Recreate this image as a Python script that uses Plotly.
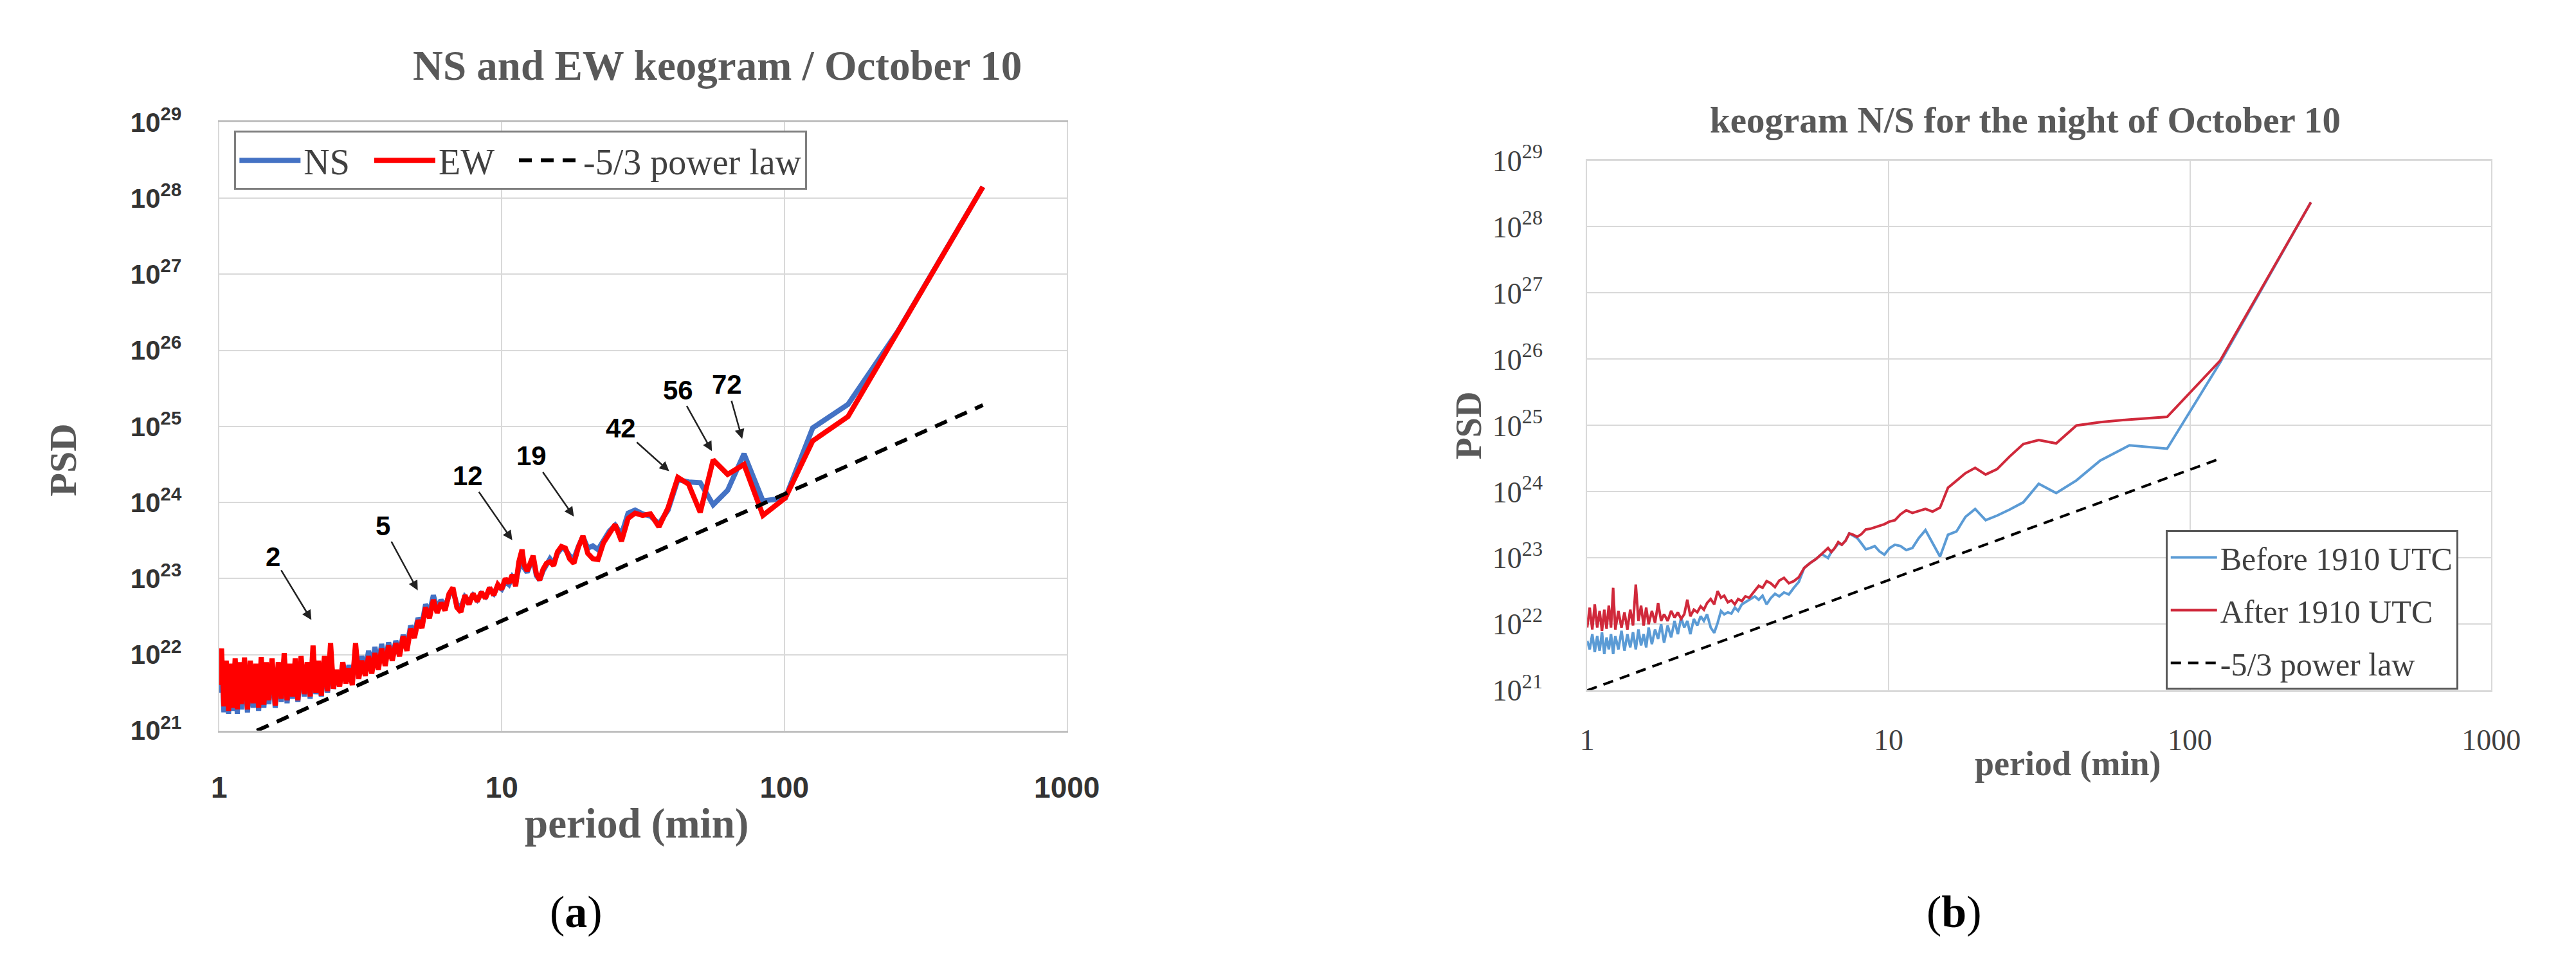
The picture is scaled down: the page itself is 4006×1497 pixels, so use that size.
import plotly.graph_objects as go

# ---------------- Panel (a): NS and EW keogram ----------------
period_a = [
    1.00, 1.02, 1.04, 1.06, 1.08, 1.10, 1.12, 1.14, 1.16, 1.18,
    1.20, 1.23, 1.26, 1.29, 1.32, 1.35, 1.38, 1.41, 1.44, 1.47,
    1.50, 1.54, 1.58, 1.62, 1.66, 1.70, 1.74, 1.78, 1.82, 1.86,
    1.90, 1.95, 2.00, 2.05, 2.10, 2.15, 2.20, 2.25, 2.30, 2.36,
    2.42, 2.48, 2.54, 2.60, 2.67, 2.74, 2.81, 2.88, 2.96, 3.04,
    3.12, 3.20, 3.29, 3.38, 3.47, 3.56, 3.66, 3.76, 3.87, 3.98,
    4.10, 4.22, 4.35, 4.48, 4.62, 4.76, 4.91, 5.06, 5.22, 5.38,
    5.55, 5.73, 5.91, 6.10, 6.30, 6.51, 6.72, 6.94, 7.17, 7.41,
    7.66, 7.92, 8.19, 8.47, 8.76, 9.06, 9.37, 9.69, 10.0, 10.3,
    10.6, 10.9, 11.2, 11.5, 11.8, 12.0, 12.3, 12.6,
    12.92, 13.26, 13.62, 14.0, 14.4, 14.82, 15.27, 15.75, 16.26, 16.8,
    17.38, 18.0, 18.67, 19.38, 20.16, 21.0, 21.91, 22.91, 24.0, 25.2,
    26.53, 28.0, 29.65, 31.5, 33.6, 36.0, 38.77, 42.0, 45.82, 50.4,
    56.0, 63.0, 72.0, 84.0, 100.8, 126.0, 168.0, 252.0, 504.0,
]

# log10(PSD)
ns_log_a = [
    21.50, 21.95, 21.24, 21.85, 21.22, 21.80, 21.26, 21.88, 21.22, 21.84,
    21.28, 21.90, 21.24, 21.86, 21.30, 21.82, 21.26, 21.90, 21.30, 21.85,
    21.35, 21.88, 21.30, 21.84, 21.38, 21.95, 21.36, 21.82, 21.42, 21.90,
    21.38, 21.92, 21.45, 21.86, 21.42, 22.02, 21.48, 21.88, 21.45, 21.92,
    21.50, 22.05, 21.55, 21.78, 21.62, 21.88, 21.66, 21.86, 21.64, 22.05,
    21.72, 21.98, 21.78, 22.05, 21.82, 22.10, 21.86, 22.14, 21.90, 22.16,
    21.95, 22.18, 22.02, 22.26, 22.10, 22.38, 22.28, 22.48, 22.40, 22.66,
    22.55, 22.78, 22.60, 22.72, 22.62, 22.78, 22.84, 22.66, 22.62, 22.76,
    22.70, 22.78, 22.72, 22.80, 22.76, 22.85, 22.80, 22.90, 22.86, 22.96,
    22.92, 23.02, 22.96, 23.15, 23.30, 23.14, 23.08, 23.18,
    23.26, 23.04, 22.98, 23.10, 23.18, 23.26, 23.20, 23.33, 23.40, 23.38,
    23.30, 23.26, 23.42, 23.55, 23.40, 23.43, 23.38, 23.50, 23.62, 23.70,
    23.58, 23.86, 23.90, 23.85, 23.82, 23.72, 23.90, 24.30, 24.27, 24.26,
    23.97, 24.16, 24.64, 24.02, 24.06, 24.98, 25.29, 26.25, 28.15,
]

ew_log_a = [
    21.60, 22.08, 21.32, 21.92, 21.26, 21.88, 21.30, 21.95, 21.28, 21.90,
    21.35, 21.96, 21.28, 21.92, 21.36, 21.88, 21.30, 21.97, 21.34, 21.90,
    21.40, 21.95, 21.33, 21.90, 21.42, 22.02, 21.40, 21.88, 21.45, 21.95,
    21.40, 21.98, 21.48, 21.90, 21.45, 22.12, 21.50, 21.92, 21.46, 21.98,
    21.52, 22.15, 21.55, 21.80, 21.58, 21.90, 21.62, 21.82, 21.60, 22.15,
    21.68, 21.92, 21.72, 21.98, 21.75, 22.02, 21.80, 22.08, 21.85, 22.12,
    21.92, 22.15, 21.98, 22.24, 22.05, 22.34, 22.22, 22.45, 22.35, 22.62,
    22.48, 22.72, 22.55, 22.68, 22.58, 22.80, 22.88, 22.62, 22.56, 22.78,
    22.66, 22.80, 22.70, 22.82, 22.74, 22.88, 22.78, 22.92, 22.86, 23.00,
    22.94, 23.05, 22.90, 23.22, 23.38, 23.18, 23.10, 23.22,
    23.30, 23.06, 22.98, 23.12, 23.20, 23.22, 23.17, 23.35, 23.42, 23.40,
    23.26, 23.20, 23.41, 23.56, 23.33, 23.26, 23.25, 23.47, 23.59, 23.71,
    23.49, 23.79, 23.86, 23.83, 23.85, 23.68, 23.93, 24.33, 24.24, 23.87,
    24.56, 24.37, 24.50, 23.83, 24.06, 24.81, 25.13, 26.25, 28.15,
]

law_period_a = [1.36, 504.0]
law_log_a = [21.0, 25.28]

# ---------------- Panel (b): keogram N/S, night of October 10 ----------------
period_b = [
    1.00, 1.02, 1.04, 1.06, 1.08, 1.10, 1.12, 1.14, 1.16, 1.18,
    1.20, 1.22, 1.24, 1.27, 1.30, 1.33, 1.36, 1.39, 1.42, 1.45,
    1.48, 1.51, 1.54, 1.57, 1.60, 1.64, 1.68, 1.72, 1.76, 1.80,
    1.85, 1.90, 1.95, 2.00, 2.05, 2.10, 2.15, 2.20, 2.26, 2.32,
    2.38, 2.44, 2.50, 2.57, 2.64, 2.71, 2.78, 2.85, 2.93, 3.01,
    3.09, 3.17, 3.26, 3.35, 3.45,
    3.60, 3.71, 3.82, 3.94, 4.06, 4.20, 4.34, 4.50, 4.67, 4.85,
    5.04, 5.25, 5.48, 5.73, 6.00, 6.30,
    6.46, 6.63, 6.81, 7.00, 7.20, 7.41, 7.64, 7.875, 8.13, 8.40,
    8.69, 9.00, 9.33, 9.69, 10.08, 10.5, 10.96, 11.45, 12.0, 12.6,
    13.26, 14.0, 14.82, 15.75, 16.8, 18.0, 19.38, 21.0, 22.91, 25.2,
    28.0, 31.5, 36.0, 42.0, 50.4, 63.0, 84.0, 126.0, 252.0,
]

before_log_b = [
    21.75, 21.62, 21.85, 21.58, 21.82, 21.60, 21.88, 21.55, 21.80, 21.62,
    21.85, 21.55, 21.82, 21.62, 21.90, 21.60, 21.85, 21.65, 21.88, 21.62,
    21.92, 21.68, 21.85, 21.65, 21.95, 21.70, 21.92, 21.78, 22.00, 21.72,
    21.98, 21.80, 22.05, 21.85, 22.10, 21.95, 22.05, 21.85, 22.08, 21.98,
    22.12, 22.05, 22.15, 21.95, 21.87, 22.02, 22.20, 22.15, 22.18, 22.16,
    22.25, 22.20, 22.30, 22.33, 22.37,
    22.42, 22.37, 22.43, 22.30, 22.39, 22.46, 22.42, 22.48, 22.45, 22.55,
    22.64, 22.85, 22.92, 22.98, 23.06, 23.00,
    23.09, 23.15, 23.22, 23.20, 23.26, 23.37, 23.33, 23.30, 23.22, 23.13,
    23.15, 23.18, 23.10, 23.05, 23.15, 23.20, 23.18, 23.12, 23.15, 23.30,
    23.42, 23.22, 23.02, 23.35, 23.40, 23.62, 23.74, 23.57, 23.64, 23.73,
    23.84, 24.12, 23.98, 24.17, 24.47, 24.70, 24.65, 25.95, 28.37,
]

after_log_b = [
    21.95, 22.25, 21.92, 22.30, 21.95, 22.20, 21.90, 22.22, 21.93, 22.28,
    21.95, 22.55, 21.92, 22.20, 21.95, 22.18, 21.92, 22.22, 21.98, 22.60,
    22.05, 22.28, 21.98, 22.25, 22.00, 22.20, 22.02, 22.32, 22.05, 22.15,
    22.05, 22.20, 22.10, 22.18, 22.08, 22.15, 22.37, 22.12, 22.22, 22.18,
    22.27, 22.22, 22.32, 22.38, 22.30, 22.50, 22.40, 22.43, 22.33, 22.36,
    22.30, 22.38, 22.35, 22.42, 22.40,
    22.50, 22.58, 22.55, 22.65, 22.62, 22.56, 22.66, 22.70, 22.62, 22.65,
    22.71, 22.85, 22.92, 22.98, 23.06, 23.15,
    23.09, 23.15, 23.24, 23.20, 23.26, 23.37, 23.35, 23.32, 23.36, 23.43,
    23.44, 23.46, 23.49, 23.51, 23.55, 23.57, 23.66, 23.72, 23.68, 23.71,
    23.74, 23.70, 23.76, 24.06, 24.17, 24.28, 24.36, 24.26, 24.34, 24.53,
    24.72, 24.78, 24.73, 25.00, 25.05, 25.09, 25.13, 25.98, 28.37,
]

law_period_b = [1.0, 126.0]
law_log_b = [21.0, 24.5]

# tick labels
x_tick_vals = [1, 10, 100, 1000]
x_tick_text = ["1", "10", "100", "1000"]
y_exponents = [21, 22, 23, 24, 25, 26, 27, 28, 29]

# peak labels in panel (a): label, text position (log10 period, log10 PSD), arrow head
peak_labels = ["2", "5", "12", "19", "42", "56", "72"]
peak_text_pos = [(0.190, 23.29), (0.580, 23.69), (0.880, 24.35), (1.106, 24.61),
                 (1.421, 24.98), (1.623, 25.48), (1.797, 25.55)]
peak_head_pos = [(0.329, 22.44), (0.705, 22.83), (1.040, 23.49), (1.258, 23.80),
                 (1.596, 24.40), (1.746, 24.66), (1.852, 24.82)]


def to_psd(logs):
    return [10.0 ** v for v in logs]


SANS = "Liberation Sans, Arial, sans-serif"
SERIF = "Liberation Serif, DejaVu Serif, serif"
GREY = "#595959"
NB = "\u00a0"

fig = go.Figure()

fig.add_trace(go.Scatter(x=period_a, y=to_psd(ns_log_a), mode="lines", name="NS" + NB * 2,
                         line=dict(color="#4472c4", width=8), xaxis="x", yaxis="y",
                         legend="legend"))
fig.add_trace(go.Scatter(x=period_a, y=to_psd(ew_log_a), mode="lines", name="EW" + NB * 2,
                         line=dict(color="#ff0000", width=8), xaxis="x", yaxis="y",
                         legend="legend"))
fig.add_trace(go.Scatter(x=law_period_a, y=to_psd(law_log_a), mode="lines", name="-5/3 power law",
                         line=dict(color="black", width=6, dash="20px,14px"), xaxis="x", yaxis="y",
                         legend="legend"))

fig.add_trace(go.Scatter(x=period_b, y=to_psd(before_log_b), mode="lines", name="Before 1910 UTC",
                         line=dict(color="#5b9bd5", width=4), xaxis="x2", yaxis="y2",
                         legend="legend2", legendgroup="g1"))
fig.add_trace(go.Scatter(x=period_b, y=to_psd(after_log_b), mode="lines", name="After 1910 UTC",
                         line=dict(color="#d0293b", width=4), xaxis="x2", yaxis="y2",
                         legend="legend2", legendgroup="g2"))
fig.add_trace(go.Scatter(x=law_period_b, y=to_psd(law_log_b), mode="lines", name="-5/3 power law",
                         line=dict(color="black", width=4, dash="16px,11px"), xaxis="x2", yaxis="y2",
                         legend="legend2", legendgroup="g3"))

y_tick_vals = [10.0 ** e for e in y_exponents]
y_tick_text = ["10<sup>%d</sup>" % e for e in y_exponents]

common_x = dict(type="log", range=[0, 3], tickvals=x_tick_vals, ticktext=x_tick_text,
                showgrid=True, gridcolor="#d9d9d9", gridwidth=2, zeroline=False, ticks="")
common_y = dict(type="log", range=[21, 29], tickvals=y_tick_vals, ticktext=y_tick_text,
                showgrid=True, gridcolor="#d9d9d9", gridwidth=2, zeroline=False, ticks="")

fig.update_layout(
    width=4006, height=1497, autosize=False,
    margin=dict(l=0, r=0, t=0, b=0),
    paper_bgcolor="white", plot_bgcolor="white",
    xaxis=dict(common_x, domain=[0.0811, 0.4156], anchor="y",
               showline=True, linecolor="#bfbfbf", linewidth=3, mirror=True,
               tickfont=dict(family=SANS, size=46, color="#333333", weight="bold"),
               ticklabelstandoff=46),
    yaxis=dict(common_y, domain=[0.2385, 0.8958], anchor="x",
               showline=True, linecolor="#d9d9d9", linewidth=2, mirror=True,
               tickfont=dict(family=SANS, size=42, color="#333333", weight="bold"),
               ticklabelstandoff=48),
    xaxis2=dict(common_x, domain=[0.6208, 0.9775], anchor="y2",
                showline=True, linecolor="#d9d9d9", linewidth=3, mirror=True,
                tickfont=dict(family=SERIF, size=46, color="#404040"),
                ticklabelstandoff=34),
    yaxis2=dict(common_y, domain=[0.2819, 0.8544], anchor="x2",
                showline=True, linecolor="#d9d9d9", linewidth=2, mirror=True,
                tickfont=dict(family=SERIF, size=46, color="#404040"),
                ticklabelstandoff=58),
    legend=dict(x=0.0871, y=0.8864, xanchor="left", yanchor="top", orientation="h",
                bgcolor="white", bordercolor="#7f7f7f", borderwidth=3,
                font=dict(family=SERIF, size=56, color="#404040"),
                itemwidth=95, traceorder="normal"),
    legend2=dict(x=0.849, y=0.4549, xanchor="left", yanchor="top", orientation="v",
                 bgcolor="white", bordercolor="#595959", borderwidth=3,
                 font=dict(family=SERIF, size=50, color="#404040"),
                 itemwidth=72, tracegroupgap=14, traceorder="grouped"),
    showlegend=True,
)

annotations = [
    dict(text="<b>NS and EW keogram / October 10</b>", x=0.2776, y=0.9566, xref="paper", yref="paper",
         showarrow=False, font=dict(family=SERIF, size=65, color=GREY), xanchor="center", yanchor="middle"),
    dict(text="<b>period (min)</b>", x=0.2459, y=0.1383, xref="paper", yref="paper",
         showarrow=False, font=dict(family=SERIF, size=65, color=GREY), xanchor="center", yanchor="middle"),
    dict(text="<b>PSD</b>", x=0.0195, y=0.531, xref="paper", yref="paper", textangle=-90,
         showarrow=False, font=dict(family=SERIF, size=60, color=GREY), xanchor="center", yanchor="middle"),
    dict(text="(<b>a</b>)", x=0.2219, y=0.0428, xref="paper", yref="paper",
         showarrow=False, font=dict(family=SERIF, size=70, color="black"), xanchor="center", yanchor="middle"),
    dict(text="<b>keogram N/S for the night of October 10</b>", x=0.7936, y=0.8985, xref="paper", yref="paper",
         showarrow=False, font=dict(family=SERIF, size=57, color=GREY), xanchor="center", yanchor="middle"),
    dict(text="<b>period (min)</b>", x=0.8105, y=0.2030, xref="paper", yref="paper",
         showarrow=False, font=dict(family=SERIF, size=54, color=GREY), xanchor="center", yanchor="middle"),
    dict(text="<b>PSD</b>", x=0.574, y=0.568, xref="paper", yref="paper", textangle=-90,
         showarrow=False, font=dict(family=SERIF, size=56, color=GREY), xanchor="center", yanchor="middle"),
    dict(text="(<b>b</b>)", x=0.7656, y=0.0428, xref="paper", yref="paper",
         showarrow=False, font=dict(family=SERIF, size=70, color="black"), xanchor="center", yanchor="middle"),
]

for lab, (tx, ty), (hx, hy) in zip(peak_labels, peak_text_pos, peak_head_pos):
    annotations.append(dict(
        text="<b>%s</b>" % lab, x=hx, y=hy, ax=tx, ay=ty, xref="x", yref="y", axref="x", ayref="y",
        showarrow=True, arrowhead=2, arrowsize=1.2, arrowwidth=2.5, arrowcolor="#222222",
        standoff=2, font=dict(family=SANS, size=42, color="black")))

fig.update_layout(annotations=annotations)

fig.write_html("out.html")
